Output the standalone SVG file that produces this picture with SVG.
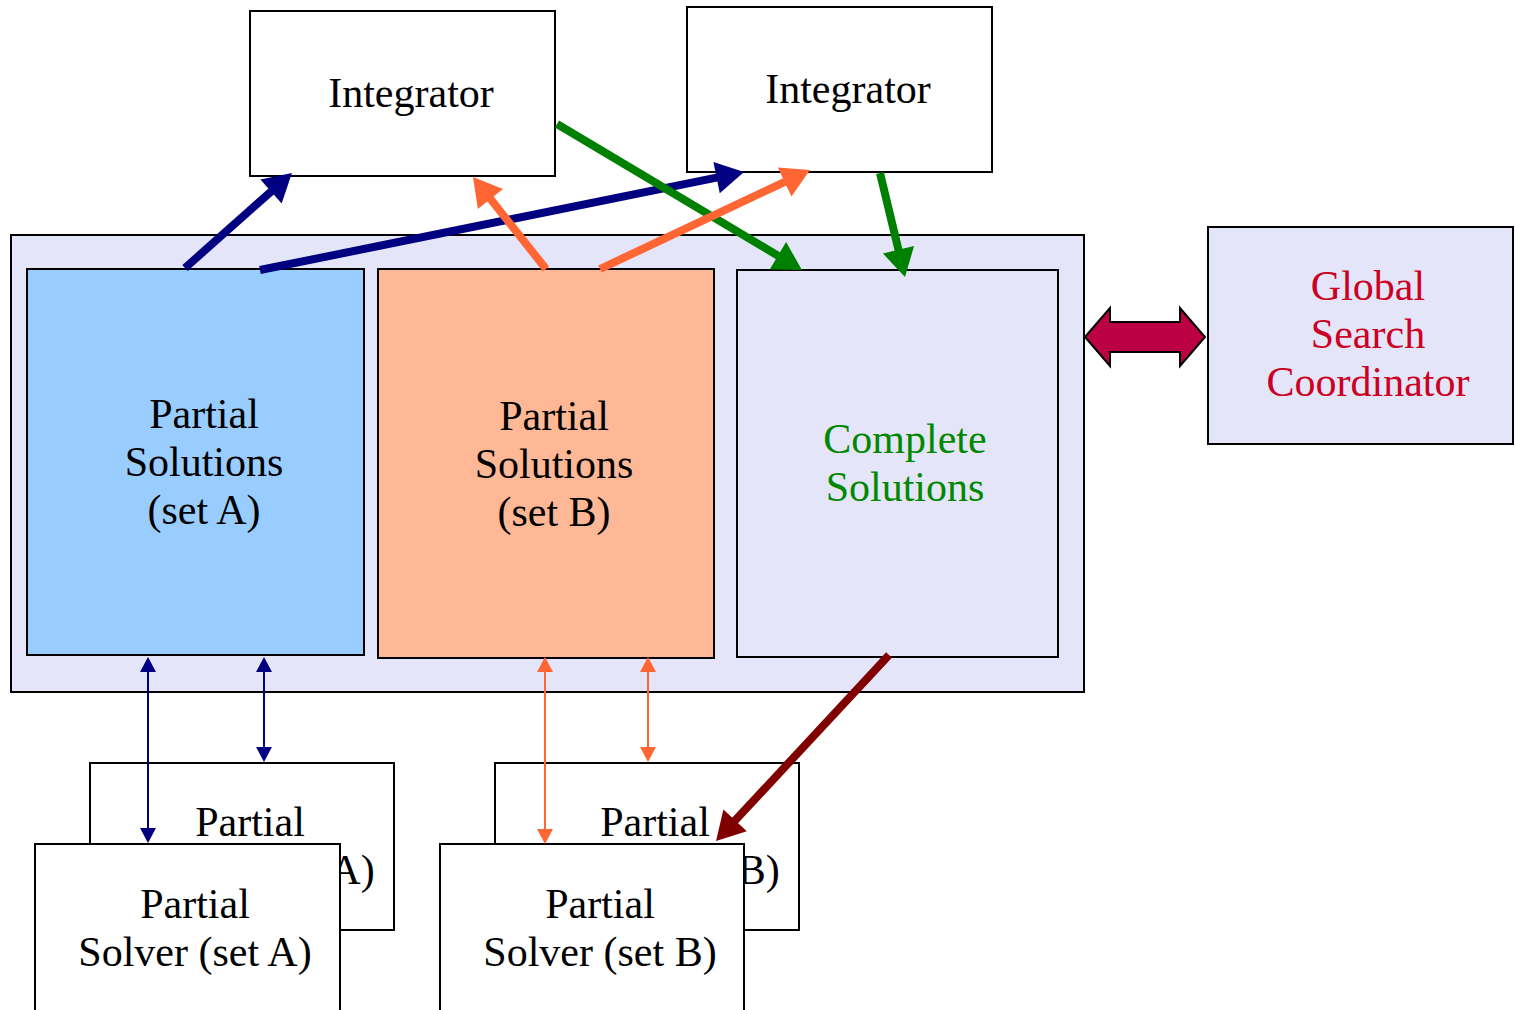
<svg xmlns="http://www.w3.org/2000/svg" width="1515" height="1010" viewBox="0 0 1515 1010">
  <style>
    .box { stroke: #000; stroke-width: 2; }
    .white { fill: #fff; }
    .lav { fill: #E5E5FA; }
    .lbl { font-family: "Liberation Serif", "Times New Roman", serif; font-size: 42px; text-anchor: middle; fill: #000; }
    .green { fill: #008800; }
    .red { fill: #CC0022; }
    .thick { fill: none; stroke-width: 8; }
    .thin { fill: none; stroke-width: 2; }
  </style>
  <defs>
    <marker id="hNavy" markerUnits="userSpaceOnUse" orient="auto" refX="10" refY="0" markerWidth="30" markerHeight="34" overflow="visible">
      <path d="M0,-16 L28,0 L0,16 z" fill="#000080"/>
    </marker>
    <marker id="hOrange" markerUnits="userSpaceOnUse" orient="auto" refX="10" refY="0" markerWidth="30" markerHeight="34" overflow="visible">
      <path d="M0,-16 L28,0 L0,16 z" fill="#FF6633"/>
    </marker>
    <marker id="hGreen" markerUnits="userSpaceOnUse" orient="auto" refX="10" refY="0" markerWidth="30" markerHeight="34" overflow="visible">
      <path d="M0,-16 L28,0 L0,16 z" fill="#008000"/>
    </marker>
    <marker id="hMaroon" markerUnits="userSpaceOnUse" orient="auto" refX="10" refY="0" markerWidth="30" markerHeight="34" overflow="visible">
      <path d="M0,-16 L28,0 L0,16 z" fill="#800000"/>
    </marker>
    <marker id="tNavy" markerUnits="userSpaceOnUse" orient="auto-start-reverse" refX="13" refY="0" markerWidth="17" markerHeight="18" overflow="visible">
      <path d="M0,-8 L15,0 L0,8 z" fill="#000080"/>
    </marker>
    <marker id="tOrange" markerUnits="userSpaceOnUse" orient="auto-start-reverse" refX="13" refY="0" markerWidth="17" markerHeight="18" overflow="visible">
      <path d="M0,-8 L15,0 L0,8 z" fill="#FF6633"/>
    </marker>
  </defs>

  <!-- shared solution pool -->
  <g id="pool">
    <rect class="box lav" x="11" y="235" width="1073" height="457"/>
  </g>
  <g id="partialA">
    <rect class="box" fill="#99CCFF" x="27" y="269" width="337" height="386"/>
    <text class="lbl" x="204" y="428">Partial</text>
    <text class="lbl" x="204" y="476">Solutions</text>
    <text class="lbl" x="204" y="524">(set A)</text>
  </g>
  <g id="partialB">
    <rect class="box" fill="#FFB896" x="378" y="269" width="336" height="389"/>
    <text class="lbl" x="554" y="430">Partial</text>
    <text class="lbl" x="554" y="478">Solutions</text>
    <text class="lbl" x="554" y="526">(set B)</text>
  </g>
  <g id="complete">
    <rect class="box lav" x="737" y="270" width="321" height="387"/>
    <text class="lbl green" x="905" y="453">Complete</text>
    <text class="lbl green" x="905" y="501">Solutions</text>
  </g>

  <!-- integrators -->
  <g id="integrator1">
    <rect class="box white" x="250" y="11" width="305" height="165"/>
    <text class="lbl" x="411" y="107">Integrator</text>
  </g>
  <g id="integrator2">
    <rect class="box white" x="687" y="7" width="305" height="165"/>
    <text class="lbl" x="848" y="103">Integrator</text>
  </g>

  <!-- coordinator -->
  <g id="coordinator">
    <rect class="box lav" x="1208" y="227" width="305" height="217"/>
    <text class="lbl red" x="1368" y="300">Global</text>
    <text class="lbl red" x="1368" y="348">Search</text>
    <text class="lbl red" x="1368" y="396">Coordinator</text>
  </g>

  <!-- solvers (stacked copies) -->
  <g id="solverA2">
    <rect class="box white" x="90" y="763" width="304" height="167"/>
    <text class="lbl" x="250" y="836">Partial</text>
    <text class="lbl" x="258" y="884">Solver (set A)</text>
  </g>
  <g id="solverA1">
    <rect class="box white" x="35" y="844" width="305" height="180"/>
    <text class="lbl" x="195" y="918">Partial</text>
    <text class="lbl" x="195" y="966">Solver (set A)</text>
  </g>
  <g id="solverB2">
    <rect class="box white" x="495" y="763" width="304" height="167"/>
    <text class="lbl" x="655" y="836">Partial</text>
    <text class="lbl" x="663" y="884">Solver (set B)</text>
  </g>
  <g id="solverB1">
    <rect class="box white" x="440" y="844" width="304" height="180"/>
    <text class="lbl" x="600" y="918">Partial</text>
    <text class="lbl" x="600" y="966">Solver (set B)</text>
  </g>

  <!-- connectors -->
  <g id="connectors">
    <line class="thick" stroke="#000080" x1="185" y1="268" x2="278.5" y2="184.9" marker-end="url(#hNavy)"/>
    <line class="thick" stroke="#000080" x1="260" y1="270" x2="726.4" y2="175.6" marker-end="url(#hNavy)"/>
    <line class="thick" stroke="#008000" x1="557" y1="124" x2="786.5" y2="260.8" marker-end="url(#hGreen)"/>
    <line class="thick" stroke="#008000" x1="880" y1="173" x2="900.8" y2="259.5" marker-end="url(#hGreen)"/>
    <line class="thick" stroke="#FF6633" x1="546" y1="269" x2="484.2" y2="191.1" marker-end="url(#hOrange)"/>
    <line class="thick" stroke="#FF6633" x1="600" y1="269" x2="793.7" y2="177.7" marker-end="url(#hOrange)"/>
    <line class="thick" stroke="#800000" x1="889" y1="655" x2="728.3" y2="827.8" marker-end="url(#hMaroon)"/>

    <line class="thin" stroke="#000080" x1="148" y1="659" x2="148" y2="841" marker-start="url(#tNavy)" marker-end="url(#tNavy)"/>
    <line class="thin" stroke="#000080" x1="264" y1="659" x2="264" y2="760" marker-start="url(#tNavy)" marker-end="url(#tNavy)"/>
    <line class="thin" stroke="#FF6633" x1="545" y1="659" x2="545" y2="842" marker-start="url(#tOrange)" marker-end="url(#tOrange)"/>
    <line class="thin" stroke="#FF6633" x1="648" y1="659" x2="648" y2="760" marker-start="url(#tOrange)" marker-end="url(#tOrange)"/>

    <polygon points="1085,337 1110,308 1110,322 1180,322 1180,308 1205,337 1180,366 1180,352 1110,352 1110,366" fill="#BB0044" stroke="#000" stroke-width="2" stroke-linejoin="miter"/>
  </g>
</svg>
